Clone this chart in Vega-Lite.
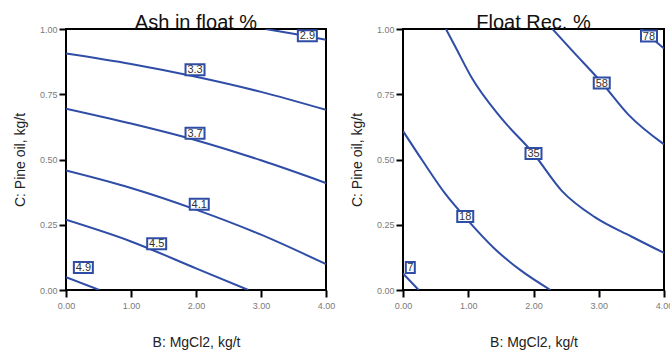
{
  "$schema": "https://vega.github.io/schema/vega-lite/v6.json",
  "padding": {"left": 12, "top": 12, "right": 0, "bottom": 0},
  "background": "white",
  "spacing": 13,
  "config": {
    "font": "Liberation Sans",
    "view": {"stroke": "black", "strokeWidth": 2},
    "axis": {
      "grid": false,
      "domain": false,
      "labelFlush": false,
      "labelFont": "Liberation Sans",
      "labelFontSize": 9,
      "labelColor": "#7a7a7a",
      "titleFont": "Liberation Sans",
      "titleFontSize": 14,
      "titleFontWeight": "normal",
      "titleColor": "#222222"
    },
    "axisX": {"labelPadding": 4, "titlePadding": 25},
    "axisY": {"labelPadding": 2, "titlePadding": 12},
    "title": {"font": "Liberation Sans", "fontSize": 20, "fontWeight": "normal", "color": "#111111", "offset": -8, "anchor": "middle"}
  },
  "datasets": {
    "ashLines": [
      {"level": "2.9", "mgcl2": 3.07, "pine": 1.0},
      {"level": "2.9", "mgcl2": 3.5, "pine": 0.982},
      {"level": "2.9", "mgcl2": 4.0, "pine": 0.959},
      {"level": "3.3", "mgcl2": 0, "pine": 0.906},
      {"level": "3.3", "mgcl2": 1, "pine": 0.866},
      {"level": "3.3", "mgcl2": 2, "pine": 0.817},
      {"level": "3.3", "mgcl2": 3, "pine": 0.759},
      {"level": "3.3", "mgcl2": 4, "pine": 0.69},
      {"level": "3.7", "mgcl2": 0, "pine": 0.695},
      {"level": "3.7", "mgcl2": 1, "pine": 0.638},
      {"level": "3.7", "mgcl2": 2, "pine": 0.574},
      {"level": "3.7", "mgcl2": 3, "pine": 0.497},
      {"level": "3.7", "mgcl2": 4, "pine": 0.41},
      {"level": "4.1", "mgcl2": 0, "pine": 0.458},
      {"level": "4.1", "mgcl2": 1, "pine": 0.391},
      {"level": "4.1", "mgcl2": 2, "pine": 0.308},
      {"level": "4.1", "mgcl2": 3, "pine": 0.212},
      {"level": "4.1", "mgcl2": 4, "pine": 0.099},
      {"level": "4.5", "mgcl2": 0, "pine": 0.269},
      {"level": "4.5", "mgcl2": 1, "pine": 0.186},
      {"level": "4.5", "mgcl2": 2, "pine": 0.083},
      {"level": "4.5", "mgcl2": 2.805, "pine": 0.0},
      {"level": "4.9", "mgcl2": 0, "pine": 0.049},
      {"level": "4.9", "mgcl2": 0.513, "pine": 0.0}
    ],
    "ashLabels": [
      {"label": "2.9", "mgcl2": 3.713, "pine": 0.974},
      {"label": "3.3", "mgcl2": 1.985, "pine": 0.844},
      {"label": "3.7", "mgcl2": 1.985, "pine": 0.601},
      {"label": "4.1", "mgcl2": 2.05, "pine": 0.329},
      {"label": "4.5", "mgcl2": 1.395, "pine": 0.177},
      {"label": "4.9", "mgcl2": 0.267, "pine": 0.086}
    ],
    "recLines": [
      {"level": "7", "mgcl2": 0, "pine": 0.063},
      {"level": "7", "mgcl2": 0.24, "pine": 0.0},
      {"level": "18", "mgcl2": 0, "pine": 0.609},
      {"level": "18", "mgcl2": 0.3, "pine": 0.495},
      {"level": "18", "mgcl2": 0.65, "pine": 0.368},
      {"level": "18", "mgcl2": 0.95, "pine": 0.279},
      {"level": "18", "mgcl2": 1.4, "pine": 0.159},
      {"level": "18", "mgcl2": 1.8, "pine": 0.076},
      {"level": "18", "mgcl2": 2.26, "pine": 0.0},
      {"level": "35", "mgcl2": 0.658, "pine": 1.0},
      {"level": "35", "mgcl2": 0.8, "pine": 0.933},
      {"level": "35", "mgcl2": 1.056, "pine": 0.812},
      {"level": "35", "mgcl2": 1.5, "pine": 0.66},
      {"level": "35", "mgcl2": 2.0, "pine": 0.523},
      {"level": "35", "mgcl2": 2.43, "pine": 0.381},
      {"level": "35", "mgcl2": 2.94, "pine": 0.279},
      {"level": "35", "mgcl2": 3.5, "pine": 0.205},
      {"level": "35", "mgcl2": 4.0, "pine": 0.142},
      {"level": "58", "mgcl2": 2.29, "pine": 1.0},
      {"level": "58", "mgcl2": 2.6, "pine": 0.915},
      {"level": "58", "mgcl2": 3.05, "pine": 0.793},
      {"level": "58", "mgcl2": 3.45, "pine": 0.673},
      {"level": "58", "mgcl2": 4.0, "pine": 0.558},
      {"level": "78", "mgcl2": 3.65, "pine": 1.0},
      {"level": "78", "mgcl2": 4.0, "pine": 0.925}
    ],
    "recLabels": [
      {"label": "7", "mgcl2": 0.112, "pine": 0.086},
      {"label": "18", "mgcl2": 0.954, "pine": 0.282},
      {"label": "35", "mgcl2": 2.0, "pine": 0.523},
      {"label": "58", "mgcl2": 3.046, "pine": 0.793},
      {"label": "78", "mgcl2": 3.77, "pine": 0.973}
    ]
  },
  "hconcat": [
    {
      "title": "Ash in float %",
      "width": 260,
      "height": 261,
      "encoding": {
        "x": {"field": "mgcl2", "type": "quantitative", "title": "B: MgCl2, kg/t",
              "scale": {"domain": [0, 4], "nice": false, "zero": false},
              "axis": {"values": [0, 1, 2, 3, 4], "format": ".2f", "ticks": true, "tickSize": 7, "tickColor": "black", "tickWidth": 2}},
        "y": {"field": "pine", "type": "quantitative", "title": "C: Pine oil, kg/t",
              "scale": {"domain": [0, 1], "nice": false, "zero": false},
              "axis": {"values": [0, 0.25, 0.5, 0.75, 1], "format": ".2f", "ticks": true, "tickSize": 7, "tickColor": "black", "tickWidth": 2}}
      },
      "layer": [
        {
          "data": {"name": "ashLines"},
          "mark": {"type": "line", "color": "#2f4da6", "strokeWidth": 2, "interpolate": "monotone", "clip": true},
          "encoding": {"detail": {"field": "level", "type": "nominal"}}
        },
        {
          "data": {"name": "ashLabels"},
          "mark": {"type": "point", "shape": "M-1.9,-1.1L1.9,-1.1L1.9,1.1L-1.9,1.1Z", "size": 100, "filled": false, "fill": "white", "fillOpacity": 1, "stroke": "#2f4da6", "strokeWidth": 2, "opacity": 1},
          "encoding": {}
        },
        {
          "data": {"name": "ashLabels"},
          "mark": {"type": "text", "font": "Liberation Sans", "fontSize": 11, "color": "#333333", "baseline": "middle", "align": "center", "dy": 0.5},
          "encoding": {"text": {"field": "label", "type": "nominal"}}
        }
      ]
    },
    {
      "title": "Float Rec. %",
      "width": 261,
      "height": 261,
      "encoding": {
        "x": {"field": "mgcl2", "type": "quantitative", "title": "B: MgCl2, kg/t",
              "scale": {"domain": [0, 4], "nice": false, "zero": false},
              "axis": {"values": [0, 1, 2, 3, 4], "format": ".2f", "ticks": true, "tickSize": 7, "tickColor": "black", "tickWidth": 2}},
        "y": {"field": "pine", "type": "quantitative", "title": "C: Pine oil, kg/t",
              "scale": {"domain": [0, 1], "nice": false, "zero": false},
              "axis": {"values": [0, 0.25, 0.5, 0.75, 1], "format": ".2f", "ticks": true, "tickSize": 7, "tickColor": "black", "tickWidth": 2}}
      },
      "layer": [
        {
          "data": {"name": "recLines"},
          "mark": {"type": "line", "color": "#2f4da6", "strokeWidth": 2, "interpolate": "monotone", "clip": true},
          "encoding": {"detail": {"field": "level", "type": "nominal"}}
        },
        {
          "data": {"name": "recLabels"},
          "mark": {"type": "point", "size": 100, "filled": false, "fill": "white", "fillOpacity": 1, "stroke": "#2f4da6", "strokeWidth": 2, "opacity": 1},
          "encoding": {
            "shape": {"field": "label", "type": "nominal", "legend": null,
                      "scale": {"domain": ["7", "18", "35", "58", "78"],
                                "range": ["M-0.9,-1.1L0.9,-1.1L0.9,1.1L-0.9,1.1Z", "M-1.6,-1.1L1.6,-1.1L1.6,1.1L-1.6,1.1Z", "M-1.6,-1.1L1.6,-1.1L1.6,1.1L-1.6,1.1Z", "M-1.6,-1.1L1.6,-1.1L1.6,1.1L-1.6,1.1Z", "M-1.6,-1.1L1.6,-1.1L1.6,1.1L-1.6,1.1Z"]}}
          }
        },
        {
          "data": {"name": "recLabels"},
          "mark": {"type": "text", "font": "Liberation Sans", "fontSize": 11, "color": "#333333", "baseline": "middle", "align": "center", "dy": 0.5},
          "encoding": {"text": {"field": "label", "type": "nominal"}}
        }
      ]
    }
  ]
}
